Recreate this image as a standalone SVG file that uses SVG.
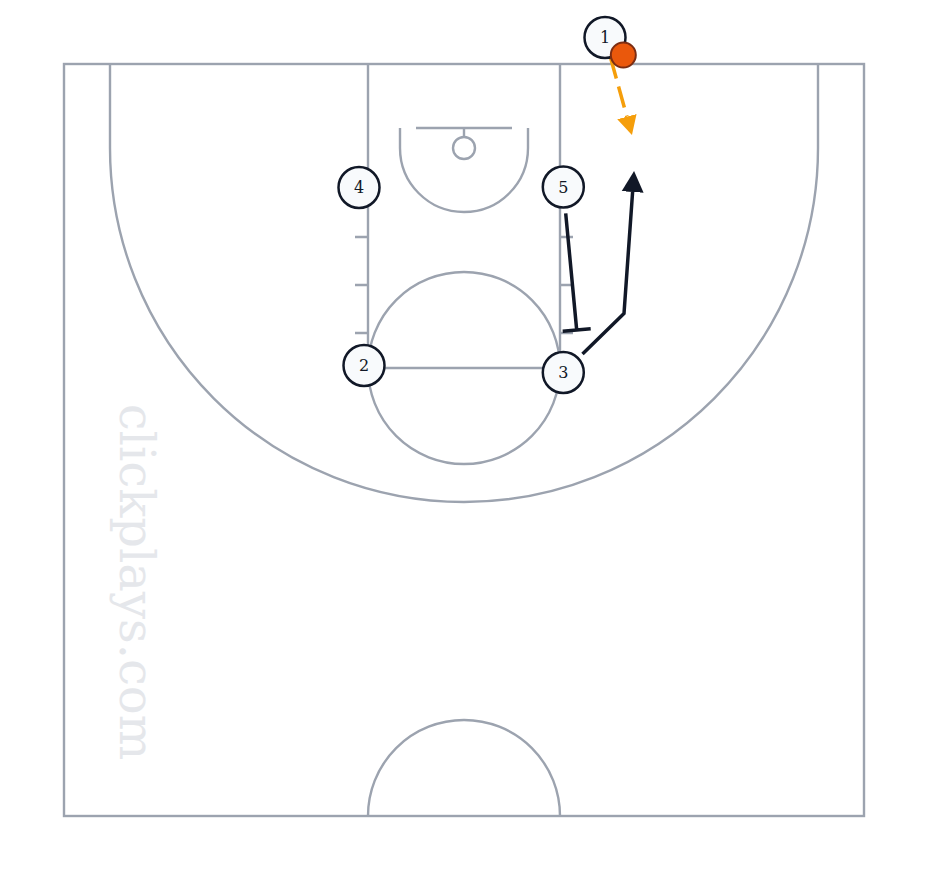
<svg xmlns="http://www.w3.org/2000/svg" width="928" height="880" viewBox="0 0 928 880">
  <style>
    .court { fill: none; stroke: #9ca3af; stroke-width: 2.4; }
    .player circle { fill: #f8fafc; stroke: #111827; stroke-width: 2.5; }
    .player text { font-family: "DejaVu Serif", serif; font-size: 16px; fill: #111827; text-anchor: middle; }
    .cut { fill: none; stroke: #111827; stroke-width: 3.5; stroke-linejoin: miter; }
    .screen { fill: none; stroke: #111827; stroke-width: 3.5; }
    .pass { fill: none; stroke: #f59e0b; stroke-width: 3.5; stroke-dasharray: 21.8 8.3; stroke-dashoffset: 9.4; }
    .watermark { font-family: "DejaVu Serif", serif; font-size: 48px; fill: #e5e7eb; text-anchor: middle; }
  </style>
  <defs>
    <marker id="arrowDark" markerUnits="userSpaceOnUse" markerWidth="22" markerHeight="24" viewBox="0 -11 21 22" refX="0" refY="0" orient="auto">
      <path d="M0,-10.5 L20,0 L0,10.5 Z" fill="#111827"/>
    </marker>
    <marker id="arrowPass" markerUnits="userSpaceOnUse" markerWidth="20" markerHeight="22" viewBox="0 -10 19 20" refX="0" refY="0" orient="auto">
      <path d="M0,-9.5 L18,0 L0,9.5 Z" fill="#f59e0b"/>
    </marker>
  </defs>

  <rect width="928" height="880" fill="#ffffff"/>

  <g id="court">
    <rect class="court" x="64" y="64" width="800" height="752"/>
    <!-- three point line -->
    <path class="court" d="M110,64 L110,148 A354,354 0 0 0 818,148 L818,64"/>
    <!-- lane -->
    <path class="court" d="M368,64 L368,368 L560,368 L560,64"/>
    <!-- free throw circle -->
    <circle class="court" cx="464" cy="368" r="96"/>
    <!-- lane hash marks -->
    <path class="court" d="M355,237 L368,237 M355,285 L368,285 M355,333 L368,333 M560,237 L573,237 M560,285 L573,285 M560,333 L573,333"/>
    <!-- restricted area -->
    <path class="court" d="M400,128 L400,148 A64,64 0 0 0 528,148 L528,128"/>
    <!-- backboard, stem, rim -->
    <path class="court" d="M416,128 L512,128 M464,128 L464,137"/>
    <circle class="court" cx="464" cy="148" r="11"/>
    <!-- center circle (half) -->
    <path class="court" d="M368,816 A96,96 0 0 1 560,816"/>
  </g>

  <text class="watermark" transform="translate(120,582) rotate(90)" x="0" y="0">clickplays.com</text>

  <g id="connectors">
    <path id="pass-1" class="pass" d="M605,37.5 L626.9,116.7" marker-end="url(#arrowPass)"/>
    <path id="cut-3" class="cut" d="M582.5,354 L624,313.5 L632.6,192" marker-end="url(#arrowDark)"/>
    <path id="screen-5" class="screen" d="M565.7,213.3 L576.7,330 M562.7,331.3 L590.7,328.7"/>
  </g>

  <g id="player-1" class="player">
    <circle cx="605" cy="37.5" r="20.5"/>
    <text x="605" y="43">1</text>
  </g>
  <g id="ball">
    <circle cx="623.3" cy="55" r="12.5" fill="#ea580c" stroke="#7c2d12" stroke-width="2"/>
  </g>
  <g id="player-4" class="player">
    <circle cx="359" cy="187.5" r="20.5"/>
    <text x="359" y="193">4</text>
  </g>
  <g id="player-5" class="player">
    <circle cx="563.3" cy="187" r="20.5"/>
    <text x="563.3" y="192.5">5</text>
  </g>
  <g id="player-2" class="player">
    <circle cx="364" cy="365.5" r="20.5"/>
    <text x="364" y="371">2</text>
  </g>
  <g id="player-3" class="player">
    <circle cx="563.3" cy="372.5" r="20.5"/>
    <text x="563.3" y="378">3</text>
  </g>
</svg>
